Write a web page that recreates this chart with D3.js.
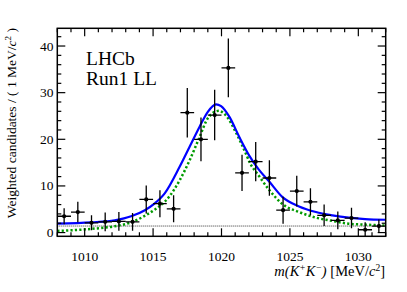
<!DOCTYPE html>
<html><head><meta charset="utf-8">
<script src="https://cdn.jsdelivr.net/npm/d3@7"></script>
<style>
body{margin:0;background:#fff;}
svg{display:block;font-family:"Liberation Serif","Times New Roman",serif;}
</style></head>
<body><svg id="c" width="407" height="292"></svg>
<script>
// ---- data ----
const binCenters = [1008.5,1009.5,1010.5,1011.5,1012.5,1013.5,1014.5,1015.5,1016.5,1017.5,1018.5,1019.5,1020.5,1021.5,1022.5,1023.5,1024.5,1025.5,1026.5,1027.5,1028.5,1029.5,1030.5,1031.5];
const counts = [3.5,4.4,2.1,2.3,2.4,2.3,7.1,6.2,5.1,25.7,20.0,25.2,35.3,12.8,15.2,11.7,4.8,8.9,6.6,3.7,2.6,3.1,0.6,1.4];
const errors = [1.7,2.2,1.6,2.0,2.0,1.9,3.0,2.9,2.9,5.3,4.7,5.4,6.3,3.9,4.2,3.8,2.9,3.3,2.9,2.3,1.9,2.2,1.6,1.4];
const totalX = [1008,1010.5,1012.2,1013.4,1014.4,1015.1,1015.85,1016.94,1017.67,1018.4,1019.0,1019.6,1019.97,1020.58,1021.3,1022.05,1022.7,1023.5,1024.46,1025.67,1026.9,1028.1,1029.3,1030.5,1032];
const totalY = [1.93,2.2,2.64,3.5,4.8,6.2,8.4,14.1,18.4,22.7,25.9,27.5,27.1,24.8,20.5,16.4,13.6,10.9,7.6,5.6,4.4,3.7,3.2,2.9,2.75];
const signalX = [1008,1010.5,1012.2,1013.4,1014.4,1015.1,1015.85,1016.2,1016.94,1017.67,1018.4,1019.0,1019.8,1020.3,1021.1,1021.8,1022.05,1022.7,1023.5,1024.46,1025.67,1026.9,1028.1,1029.3,1030.5,1032];
const signalY = [0.35,0.8,1.35,2.2,3.6,4.9,6.6,7.8,11.2,15.5,20.5,24.5,26.1,25.2,21.2,16.8,15.1,12.3,9.1,6.1,4.4,3.2,2.5,1.9,1.7,1.5];
const bkgX = [1008,1032];
const bkgY = [1.4,1.4];
const xTicks = [1010,1015,1020,1025,1030];
const yTicks = [0,10,20,30,40];
const xDomain = [1008,1032];
const yDomain = [-0.8,43.8];

// ---- layout ----
const svg = d3.select("#c");
const L=57.3, R=385.7, T=28.3, B=236.3;
const x = d3.scaleLinear().domain(xDomain).range([L,R]);
const y = d3.scaleLinear().domain(yDomain).range([B,T]);

svg.append("defs").append("clipPath").attr("id","clip")
  .append("rect").attr("x",L).attr("y",T).attr("width",R-L).attr("height",B-T);
const g = svg.append("g").attr("clip-path","url(#clip)");

const line = d3.line().curve(d3.curveMonotoneX);
function pts(xs,ys){return xs.map((v,i)=>[x(v),y(ys[i])]);}

// background
g.append("path").attr("d",line(pts(bkgX,bkgY))).attr("fill","none")
  .attr("stroke","#333").attr("stroke-width",1).attr("stroke-dasharray","1,1");
// signal
g.append("path").attr("d",line(pts(signalX,signalY))).attr("fill","none")
  .attr("stroke","#009a00").attr("stroke-width",2.5).attr("stroke-dasharray","2.2,2.2");
// total
g.append("path").attr("d",line(pts(totalX,totalY))).attr("fill","none")
  .attr("stroke","#0000ff").attr("stroke-width",2.2);

// data
const dg = g.append("g");
binCenters.forEach((c,i)=>{
  dg.append("line").attr("x1",x(c)).attr("x2",x(c)).attr("y1",y(counts[i]-errors[i])).attr("y2",y(counts[i]+errors[i]))
    .attr("stroke","#000").attr("stroke-width",1.3);
  dg.append("line").attr("x1",x(c-0.5)).attr("x2",x(c+0.5)).attr("y1",y(counts[i])).attr("y2",y(counts[i]))
    .attr("stroke","#000").attr("stroke-width",1.3);
  dg.append("circle").attr("cx",x(c)).attr("cy",y(counts[i])).attr("r",2.1).attr("fill","#000");
});

// frame
svg.append("rect").attr("x",L).attr("y",T).attr("width",R-L).attr("height",B-T)
  .attr("fill","none").attr("stroke","#000").attr("stroke-width",1.5);

// ticks
const tk = svg.append("g").attr("stroke","#000").attr("stroke-width",1.2);
d3.range(1008,1032.001,1).forEach(v=>{
  const major = Math.abs(v%5)<1e-6;
  const len = major?8:4;
  tk.append("line").attr("x1",x(v)).attr("x2",x(v)).attr("y1",B).attr("y2",B-len);
  tk.append("line").attr("x1",x(v)).attr("x2",x(v)).attr("y1",T).attr("y2",T+len);
});
d3.range(0,43.8,2).forEach(v=>{
  const major = v%10===0;
  const len = major?8:4;
  tk.append("line").attr("x1",L).attr("x2",L+len).attr("y1",y(v)).attr("y2",y(v));
  tk.append("line").attr("x1",R).attr("x2",R-len).attr("y1",y(v)).attr("y2",y(v));
});

// tick labels
xTicks.forEach(v=>{
  svg.append("text").attr("x",x(v)).attr("y",260.5).attr("text-anchor","middle")
    .attr("font-size",13.5).text(v);
});
yTicks.forEach(v=>{
  svg.append("text").attr("x",53.5).attr("y",y(v)+4.5).attr("text-anchor","end")
    .attr("font-size",13.5).text(v);
});

// axis titles
const xt = svg.append("text").attr("x",385).attr("y",276).attr("text-anchor","end").attr("font-size",14.5);
xt.append("tspan").attr("font-style","italic").text("m(K");
xt.append("tspan").attr("font-style","italic").attr("dy",-5).attr("font-size",9.5).text("+");
xt.append("tspan").attr("font-style","italic").attr("dy",5).text("K");
xt.append("tspan").attr("font-style","italic").attr("dy",-5).attr("font-size",9.5).text("−");
xt.append("tspan").attr("font-style","italic").attr("dy",5).text(")");
xt.append("tspan").text(" [MeV/");
xt.append("tspan").attr("font-style","italic").text("c");
xt.append("tspan").attr("dy",-5).attr("font-size",9.5).text("2");
xt.append("tspan").attr("dy",5).text("]");

const yt = svg.append("text").attr("transform","translate(16,28) rotate(-90)").attr("text-anchor","end").attr("font-size",13.5);
yt.append("tspan").text("Weighted candidates / ( 1 MeV/");
yt.append("tspan").attr("font-style","italic").text("c");
yt.append("tspan").attr("dy",-5).attr("font-size",9).text("2");
yt.append("tspan").attr("dy",5).text(" )");

// labels
svg.append("text").attr("x",86).attr("y",64.5).attr("font-size",19.5).text("LHCb");
svg.append("text").attr("x",86).attr("y",84.5).attr("font-size",19.5).text("Run1 LL");
</script></body></html>
